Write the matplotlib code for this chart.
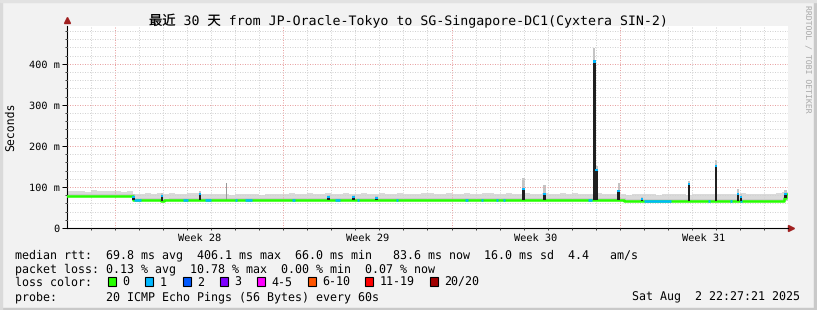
import matplotlib
matplotlib.use("Agg")
import matplotlib.pyplot as plt
import numpy as np
from matplotlib.patches import Rectangle

plt.rcParams["text.hinting"] = "no_hinting"

W, H, DPI = 817, 310, 100
MONO = "DejaVu Sans Mono"

# --- data (days from window start, values in ms) ---
med_days = [0.0, 2.75, 3.92, 4.04, 6.08, 8.875, 23.17, 29.83, 29.92]
med_vals = [77, 69, 66, 69, 67, 69, 66, 74, 82]

# smoke maximum per 6 hour bin
smoke_top = [
    91, 89, 90, 88, 92, 90, 89, 91, 90, 88, 89, 84,
    84, 85, 83, 86, 84, 85, 83, 84, 86, 85, 83, 84,
    83, 82, 84, 81, 83, 82, 84, 83, 81, 82, 84, 83,
    84, 85, 83, 84, 86, 83, 84, 85, 83, 84, 85, 84,
    83, 85, 84, 83, 86, 84, 83, 85, 84, 83, 84, 86,
    85, 83, 84, 86, 83, 84, 85, 83, 84, 86, 85, 83,
    84, 85, 83, 84, 86, 84, 83, 85, 84, 83, 85, 84,
    85, 84, 83, 84, 86, 84, 83, 82, 83, 81, 82, 83,
    82, 83, 81, 82, 84, 82, 83, 81, 82, 83, 84, 82,
    83, 82, 84, 83, 85, 82, 83, 84, 82, 83, 86, 88,
]

# intervals with 1/20 loss
loss1_start = [2.79, 4.83, 5.75, 7.0, 7.42, 9.375, 11.17, 12.08, 13.71, 16.58,
               17.21, 17.83, 18.125, 21.67, 24.0, 26.67, 27.58, 28.0]
loss1_end = [3.08, 5.04, 6.0, 7.08, 7.71, 9.5, 11.375, 12.17, 13.79, 16.67,
             17.29, 17.92, 18.21, 21.83, 25.125, 26.75, 27.67, 28.08]

spike_days = [2.77, 3.96, 5.54, 10.875, 11.92, 12.875, 19.0, 19.875, 21.94,
              22.04, 22.96, 23.92, 25.875, 27.0, 27.92, 28.04, 29.9]
spike_top = [77, 80, 85, 77, 77, 75, 97, 86, 408, 143, 93, 73, 109, 154, 85, 78, 85]
spike_smoke = [82, 85, 90, 80, 80, 78, 122, 105, 438, 150, 110, 76, 115, 166, 95, 82, 92]
grey_spike_days = [6.63]
grey_spike_top = [110]

y_ticks = [0, 100, 200, 300, 400]
y_labels = ["0", "100 m", "200 m", "300 m", "400 m"]
week_starts = [2, 9, 16, 23]
week_labels = ["Week 28", "Week 29", "Week 30", "Week 31"]

loss_names = ["0", "1", "2", "3", "4-5", "6-10", "11-19", "20/20"]
loss_colors = ["#26ff00", "#00b8ff", "#0059ff", "#7e00ff",
               "#ff00ff", "#ff5500", "#ff0000", "#a10000"]

title = "最近 30 天 from JP-Oracle-Tokyo to SG-Singapore-DC1(Cyxtera SIN-2)"
legend_rows = [
    "median rtt:  69.8 ms avg  406.1 ms max  66.0 ms min   83.6 ms now  16.0 ms sd  4.4   am/s",
    "packet loss: 0.13 % avg  10.78 % max  0.00 % min  0.07 % now",
    "loss color:",
    "probe:       20 ICMP Echo Pings (56 Bytes) every 60s",
]
stamp = "Sat Aug  2 22:27:21 2025"


def med_at(d):
    idx = np.searchsorted(med_days, d, side="right") - 1
    return np.asarray(med_vals, dtype=float)[idx]


def fx(px):
    return px / W


def fy(py):
    return 1 - py / H


fig = plt.figure(figsize=(W / DPI, H / DPI), dpi=DPI, facecolor="#f2f2f2")

# frame
fig.patches.append(Rectangle((0, 0), 1, 2 / H, transform=fig.transFigure, color="#c9c9c9", zorder=-1))
fig.patches.append(Rectangle((1 - 3 / W, 0), 3 / W, 1, transform=fig.transFigure, color="#c9c9c9", zorder=-1))
fig.patches.append(Rectangle((0, 0), 2 / W, 1, transform=fig.transFigure, color="#dadada", zorder=-1))
fig.patches.append(Rectangle((0, 1 - 2 / H), 1, 2 / H, transform=fig.transFigure, color="#e2e2e2", zorder=-1))

ax = fig.add_axes((67 / W, 82 / H, 721 / W, 202 / H))
ax.set_facecolor("white")
ax.set_xlim(0, 30)
ax.set_ylim(0, 492)

# smoke
edges = np.arange(len(smoke_top) + 1) * 0.25
top = np.append(smoke_top, smoke_top[-1])
base = med_at(edges)
ax.fill_between(edges, base - 1, top, step="post", color="#dadada", lw=0, zorder=1)
ax.fill_between(edges, base - 1, base + 5, step="post", color="#cbcbcb", lw=0, zorder=1.1)

sd = np.array(spike_days)
sb = med_at(sd)
st = np.array(spike_top, dtype=float)
ax.bar(sd, np.array(spike_smoke) - st, bottom=st, width=0.1, color="#c4c4c4", lw=0, zorder=1.2)
gd = np.array(grey_spike_days)
ax.bar(gd, np.array(grey_spike_top) - med_at(gd), bottom=med_at(gd), width=0.04,
       color="#9a9a9a", lw=0, zorder=1.2)

# median line
md = np.append(med_days, 30)
mv = np.append(med_vals, med_vals[-1])
ax.step(md, mv, where="post", color=loss_colors[0], lw=1.8, zorder=3)
ls = np.array(loss1_start)
le = np.array(loss1_end)
ax.hlines(med_at((ls + le) / 2), ls, le, color=loss_colors[1], lw=1.8, zorder=3.1)

ax.bar(sd, st - sb, bottom=sb, width=0.11, color="#202020", lw=0, zorder=3.2)
ax.bar(sd, 5, bottom=st - 5, width=0.11, color=loss_colors[1], lw=0, zorder=3.3)

# grid
ax.set_xticks(week_starts)
ax.set_xticks(np.arange(1, 30), minor=True)
ax.set_yticks(y_ticks)
ax.set_yticklabels(y_labels, fontfamily=MONO, fontsize=7.4)
ax.set_yticks(np.arange(20, 492, 20), minor=True)
ax.set_axisbelow(False)
ax.grid(which="minor", color="#d2d2d2", ls=(0, (1, 1.5)), lw=0.72)
ax.grid(which="major", color="#e8a0a0", ls=(0, (1, 1.5)), lw=0.72)
ax.tick_params(axis="x", which="both", labelbottom=False, direction="out",
               length=1.5, width=0.72, color="#444444")
ax.tick_params(axis="y", which="major", length=3.6, width=0.72, pad=1.5, color="black")
ax.tick_params(axis="y", which="minor", length=1.4, width=0.72, color="#444444")
for s in ("top", "right"):
    ax.spines[s].set_visible(False)
for s in ("left", "bottom"):
    ax.spines[s].set_linewidth(0.8)
    ax.spines[s].set_color("black")

ax.plot([1.004], [0], marker=">", ms=5, color="#a02020", transform=ax.transAxes, clip_on=False)
ax.plot([0], [1.03], marker="^", ms=5, color="#a02020", transform=ax.transAxes, clip_on=False)

for d, lbl in zip(week_starts, week_labels):
    ax.text(d + 3.5, -0.064, lbl, transform=ax.get_xaxis_transform(), ha="center",
            va="baseline", fontfamily=MONO, fontsize=7.4)

# texts
fig.text(fx(408.5), fy(25.5), title, ha="center", va="baseline",
         fontfamily=[MONO, "Noto Sans CJK SC"], fontsize=9.55)
fig.text(fx(11), fy(127), "Seconds", rotation=90, ha="center", va="center",
         fontfamily=MONO, fontsize=8.3)
fig.text(fx(807), fy(59), "RRDTOOL / TOBI OETIKER", rotation=270, ha="center", va="center",
         fontfamily=MONO, fontsize=5.9, color="#a8a8a8")

baselines = [258, 272.5, 286, 300.5]
for row, yb in zip(legend_rows, baselines):
    fig.text(fx(15), fy(yb), row, ha="left", va="baseline", fontfamily=MONO, fontsize=8.38)
fig.text(fx(800.5), fy(300.5), stamp, ha="right", va="baseline", fontfamily=MONO, fontsize=8.38)

box_left = [108, 145, 182.7, 220, 257, 307.7, 365, 430]
for bx, name, col in zip(box_left, loss_names, loss_colors):
    fig.patches.append(Rectangle((fx(bx), fy(286)), 8 / W, 9 / H, transform=fig.transFigure,
                                 facecolor=col, edgecolor="black", lw=0.8))
    fig.text(fx(bx + 14.6), fy(286), name, ha="left", va="baseline", fontfamily=MONO, fontsize=8.38)

fig.savefig("out.png", dpi=DPI, facecolor=fig.get_facecolor())
